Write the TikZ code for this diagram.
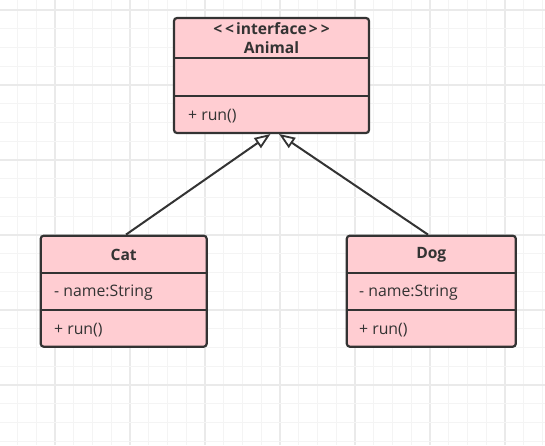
\documentclass[tikz,border=0pt]{standalone}
\usepackage{fontspec}
\setmainfont{Open Sans}[Ligatures=NoCommon]
\usetikzlibrary{arrows.meta}
\definecolor{gridminor}{HTML}{F4F4F4}
\definecolor{gridmajor}{HTML}{EAEAEA}
\definecolor{classfill}{HTML}{FFCDD2}
\definecolor{ink}{HTML}{333333}
\tikzset{
  classbox/.style={draw=ink, line width=2.2pt, fill=classfill, rounded corners=3pt, inner sep=0pt},
  divider/.style={draw=ink, line width=2pt},
  title/.style={text=ink, font=\fontsize{15.6}{17}\selectfont\bfseries, inner sep=0pt, anchor=center},
  member/.style={text=ink, font=\fontsize{15.8}{17}\selectfont, inner sep=0pt, anchor=west},
  inherit/.style={draw=ink, line width=2pt, -{Triangle[open, length=16pt, width=12pt, line width=1.8pt, fill=white]}},
}
\begin{document}
\begin{tikzpicture}[x=1pt, y=-1pt]
\useasboundingbox (0,0) rectangle (545,445);
\fill[white] (0,0) rectangle (545,445);
% grid
\foreach \k in {0,...,28} {
  \pgfmathsetmacro{\gx}{17.5+18.75*\k}
  \pgfmathtruncatemacro{\m}{mod(\k,4)}
  \ifnum\m=2 \draw[gridmajor, line width=1.2pt] (\gx,0) -- (\gx,445);
  \else \draw[gridminor, line width=1.2pt] (\gx,0) -- (\gx,445); \fi
}
\foreach \k in {0,...,23} {
  \pgfmathsetmacro{\gy}{10+18.75*\k}
  \pgfmathtruncatemacro{\m}{mod(\k,4)}
  \ifnum\m=0 \draw[gridmajor, line width=1.2pt] (0,\gy) -- (545,\gy);
  \else \draw[gridminor, line width=1.2pt] (0,\gy) -- (545,\gy); \fi
}
% Animal
\node[classbox, minimum width=195pt, minimum height=115pt] (animal) at (271.5,75.5) {};
\draw[divider] (174,58.3) -- (369,58.3);
\draw[divider] (174,96) -- (369,96);
\node[title] (animalst) at (271.5,28.5) {<\kern3pt<\kern2pt interface\kern2pt>\kern3pt>};
\node[title] (animalname) at (271.5,47.5) {Animal};
\node[member] (animalop) at (188,116.5) {+ run()};
% Cat
\node[classbox, minimum width=166pt, minimum height=111pt] (cat) at (123.7,291.2) {};
\draw[divider] (40.7,272.7) -- (206.7,272.7);
\draw[divider] (40.7,310) -- (206.7,310);
\node[title] (catname) at (123.7,255) {Cat};
\node[member] (catattr) at (54,292.5) {- name:String};
\node[member] (catop) at (54,330.5) {+ run()};
% Dog
\node[classbox, minimum width=169pt, minimum height=111pt] (dog) at (431.3,291.2) {};
\draw[divider] (346.8,272.7) -- (515.8,272.7);
\draw[divider] (346.8,310) -- (515.8,310);
\node[title] (dogname) at (431.3,255) {Dog};
\node[member] (dogattr) at (359,292.5) {- name:String};
\node[member] (dogop) at (359,330.5) {+ run()};
% inheritance
\coordinate (tipL) at (270.5,134);
\coordinate (tipR) at (279,134);
\draw[inherit] ([xshift=2.3pt]cat.north) -- (tipL);
\draw[inherit] ([xshift=-3.3pt]dog.north) -- (tipR);
\end{tikzpicture}
\end{document}
